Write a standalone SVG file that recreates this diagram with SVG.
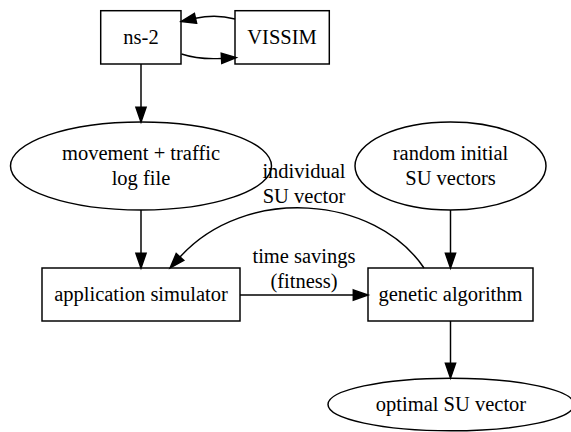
<svg xmlns="http://www.w3.org/2000/svg" width="571" height="432" viewBox="0 0 571 432">
<style>
  .shape { fill: #ffffff; stroke: #000000; stroke-width: 1.47; }
  .edge { fill: none; stroke: #000000; stroke-width: 1.47; marker-end: url(#arrow); }
  .t { font-family: "Liberation Serif", "Times New Roman", serif; font-size: 20.5px; fill: #000000; text-anchor: middle; }
</style>
<defs>
  <marker id="arrow" markerUnits="userSpaceOnUse" markerWidth="16" markerHeight="12" refX="0" refY="5.1" orient="auto" overflow="visible">
    <path d="M0,0 L14.7,5.1 L0,10.2 Z" fill="#000000" stroke="#000000" stroke-width="1.47"/>
  </marker>
</defs>
<rect width="571" height="432" fill="#ffffff"/>
<g id="ns2">
  <rect class="shape" x="100.7" y="10.7" width="80.3" height="53.3"/>
  <text class="t" x="141" y="44">ns-2</text>
</g>
<g id="vissim">
  <rect class="shape" x="235" y="10.7" width="94.3" height="53.3"/>
  <text class="t" x="282" y="44">VISSIM</text>
</g>
<g id="movement">
  <ellipse class="shape" cx="141" cy="166" rx="130.5" ry="44"/>
  <text class="t" x="141" y="160">movement + traffic</text>
  <text class="t" x="141" y="185">log file</text>
</g>
<g id="random">
  <ellipse class="shape" cx="450.5" cy="166" rx="95.5" ry="44"/>
  <text class="t" x="450.5" y="160">random initial</text>
  <text class="t" x="450.5" y="185">SU vectors</text>
</g>
<g id="appsim">
  <rect class="shape" x="42" y="268" width="198" height="53"/>
  <text class="t" x="141" y="301">application simulator</text>
</g>
<g id="ga">
  <rect class="shape" x="368" y="268" width="165" height="53"/>
  <text class="t" x="450.5" y="301">genetic algorithm</text>
</g>
<g id="optimal">
  <ellipse class="shape" cx="451" cy="404.5" rx="123" ry="26.3"/>
  <text class="t" x="451" y="411">optimal SU vector</text>
</g>
<g id="connectors">
  <path class="edge" d="M141,64 L141,107.3"/>
  <path class="edge" d="M235,19 C222,15.5 208,15.5 195.5,18.3"/>
  <path class="edge" d="M181.5,54 C192,57.5 207,59.2 221.5,58.4"/>
  <path class="edge" d="M141,210 L141,253.3"/>
  <path class="edge" d="M450.5,210 L450.5,253.3"/>
  <path class="edge" d="M424,268 C375,195 245,185 180,257"/>
  <path class="edge" d="M240,295 L353.3,295"/>
  <path class="edge" d="M450.5,321 L450.5,363.3"/>
  <text class="t" x="304" y="178">individual</text>
  <text class="t" x="304" y="203">SU vector</text>
  <text class="t" x="304" y="263">time savings</text>
  <text class="t" x="304" y="288">(fitness)</text>
</g>
</svg>
